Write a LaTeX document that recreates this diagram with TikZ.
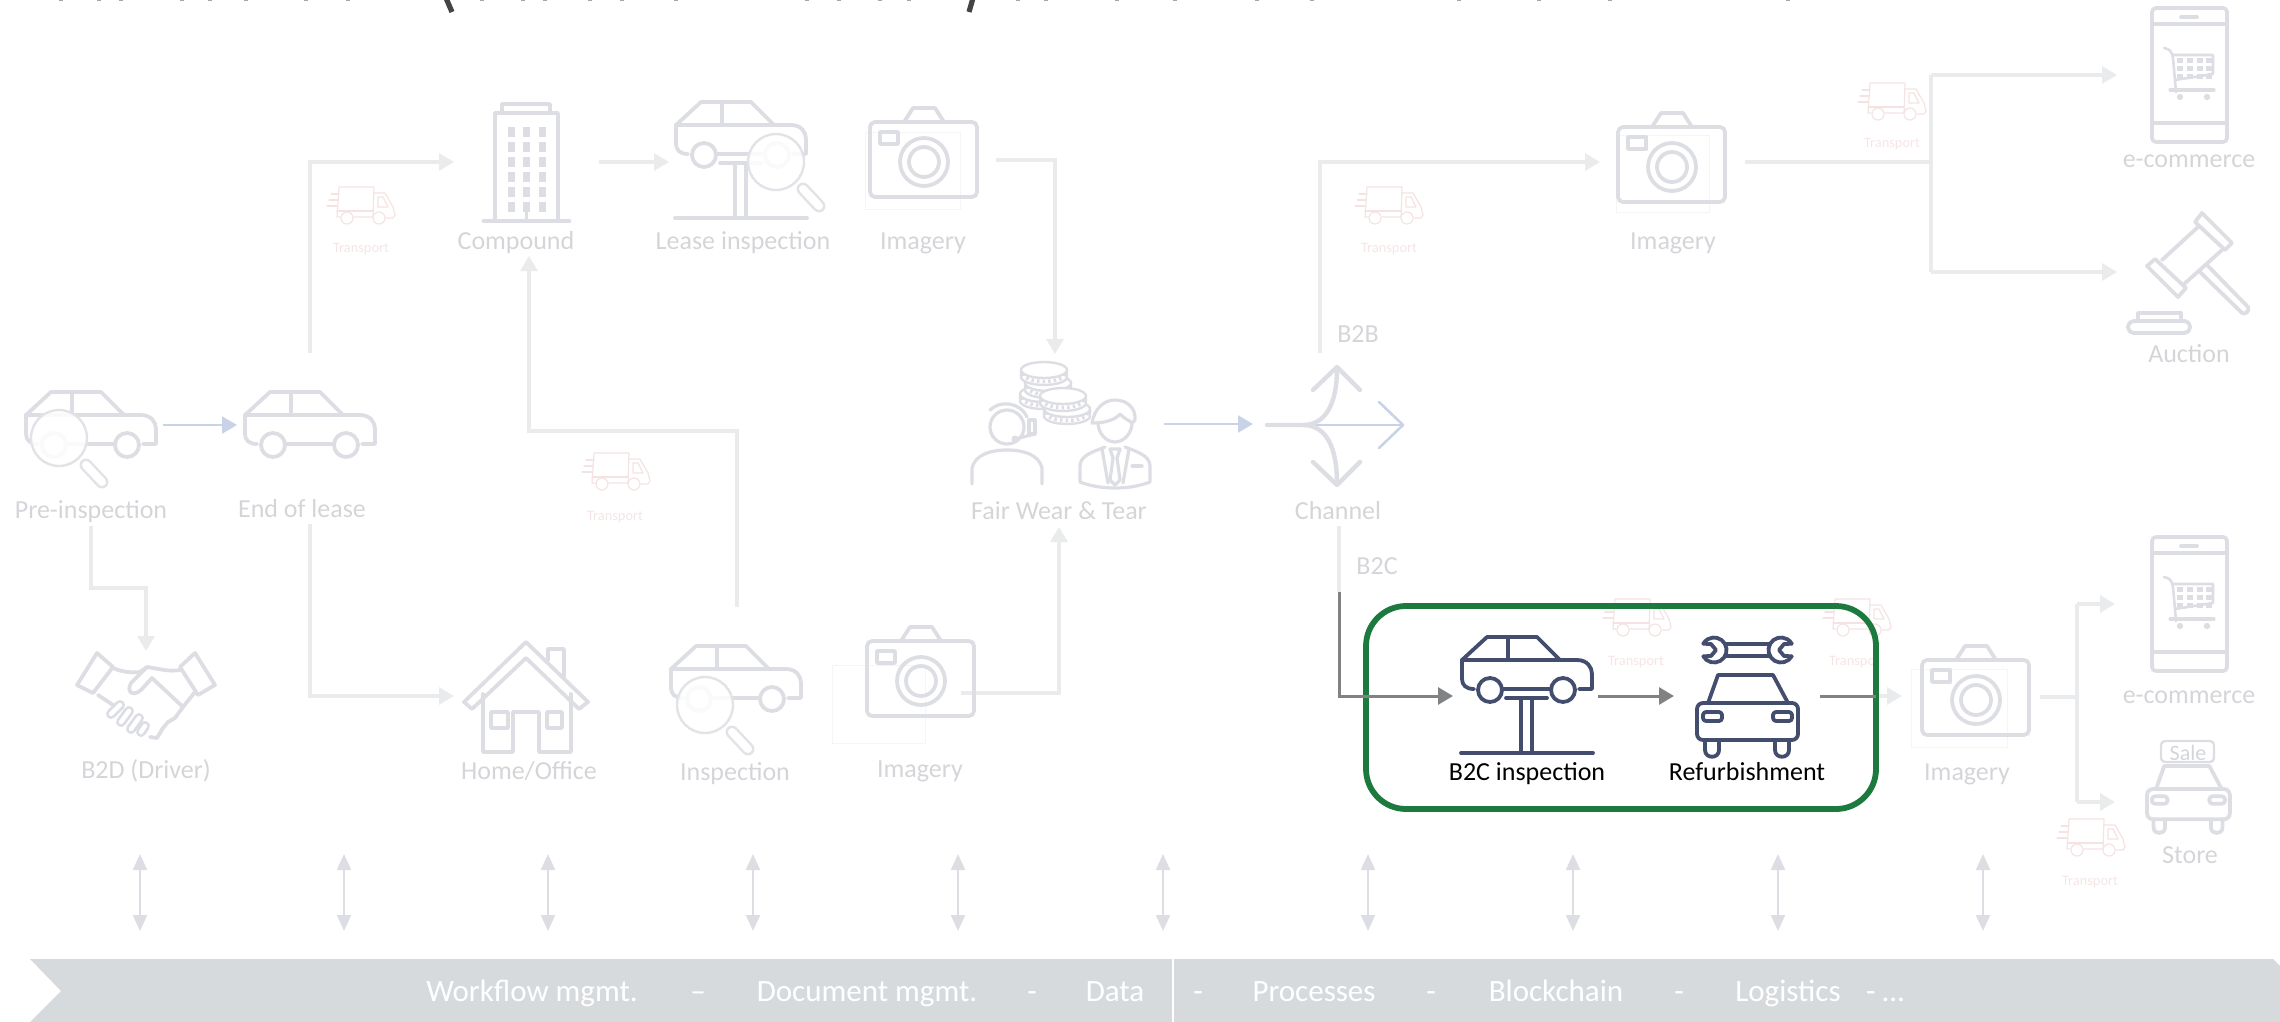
\documentclass[tikz,border=0pt]{standalone}
\usepackage{fontspec}
\setmainfont{Carlito}
\usetikzlibrary{arrows.meta,calc}
\definecolor{fadeicon}{HTML}{DDDEE3}
\definecolor{fadeline}{HTML}{EAEBEC}
\definecolor{fadetext}{HTML}{D4D5D8}
\definecolor{fadeblue}{HTML}{C9D3E7}
\definecolor{fadetruck}{HTML}{F5E2E2}
\definecolor{fadetrucktext}{HTML}{F6E5E5}
\definecolor{activeicon}{HTML}{434D6E}
\definecolor{activeline}{HTML}{808284}
\definecolor{boxgreen}{HTML}{1C7A3F}
\definecolor{bannerfill}{HTML}{D7DADD}
\definecolor{titledark}{HTML}{444444}
\tikzset{
  iconline/.style={line width=1.9pt,line join=round,line cap=round,fill=none},
  lbl/.style={font=\fontsize{13}{15}\selectfont,text=fadetext,inner sep=0pt,text height=9pt,text depth=3pt},
  lblactive/.style={font=\fontsize{13}{15}\selectfont,text=black,inner sep=0pt,text height=9pt,text depth=3pt},
  lbltruck/.style={font=\fontsize{7.2}{9}\selectfont,text=fadetrucktext,inner sep=0pt},
  lblbanner/.style={font=\fontsize{15.5}{17}\selectfont,text=white,inner sep=0pt,text height=9pt,text depth=3pt},
  conn/.style={line width=1.6pt,draw=fadeline,-{Triangle[length=7.5pt,width=8.5pt,fill=fadeline]}},
  connplain/.style={line width=1.6pt,draw=fadeline},
  connblue/.style={line width=1.3pt,draw=fadeblue,-{Triangle[length=7.5pt,width=8.5pt,fill=fadeblue]}},
  connactive/.style={line width=1.5pt,draw=activeline,-{Triangle[length=7.5pt,width=8.5pt,fill=activeline]}},
  connbus/.style={line width=1.1pt,draw=fadeicon,{Triangle[length=8pt,width=7pt,fill=fadeicon]}-{Triangle[length=8pt,width=7pt,fill=fadeicon]}},
  faintbox/.style={draw=black!4,line width=.3pt},
}
\newcommand{\carside}[3]{\begin{scope}[shift={(#1,#2)},iconline,draw=#3]
  \draw (12,52) .. controls (4,52) and (0,48) .. (0,42) -- (0,23) -- (25,0) -- (75,0) -- (98,23) -- (115,23) .. controls (125,23) and (130,30) .. (130,37) -- (130,52) -- (117,52);
  \draw (0,23) -- (98,23);
  \draw (46,0) -- (46,23);
  \draw (28,53) circle[radius=12];
  \draw (101,53) circle[radius=12];
  \draw (42,52) -- (87,52);
\end{scope}}
\newcommand{\carlift}[3]{\begin{scope}[shift={(#1,#2)},iconline,draw=#3]
  \draw (44,61) -- (85,61);
  \draw (59,61) -- (59,116);
  \draw (70,61) -- (70,116);
  \draw (-1,116) -- (131,116);
\end{scope}}
\newcommand{\lensicon}[2]{
  \fill[white,opacity=.85] (#1,#2) circle[radius=28];
  \draw[line width=1.2pt,draw=fadeicon!85] (#1,#2) circle[radius=28];
  \draw[line width=6.5pt,line cap=round,draw=fadeicon!85] ($(#1,#2)+(27,27)$) -- ($(#1,#2)+(43,44)$);
  \draw[line width=4pt,line cap=round,draw=white] ($(#1,#2)+(27,27)$) -- ($(#1,#2)+(43,44)$);
}
\newcommand{\cameraicon}[2]{\begin{scope}[shift={(#1,#2)},iconline,draw=fadeicon]
  \draw[rounded corners=2.5pt] (0,0) rectangle (107,75);
  \draw (34,0) -- (43,-14) -- (65,-14) -- (74,0);
  \draw (10,10) rectangle (28,22);
  \draw (54,40) circle[radius=24];
  \draw (54,40) circle[radius=15];
\end{scope}}
\newcommand{\truckicon}[2]{\begin{scope}[shift={(#1,#2)},line width=.6pt,line join=round,line cap=round,draw=fadetruck]
  \draw (13,30) -- (10,30) -- (12,0) -- (47,0) -- (46,30) -- (27,30);
  \draw (10,24) -- (46,24);
  \draw (47,6) -- (58,6) -- (66,20) -- (68,28) -- (66,31) -- (59,31);
  \draw (51,10) -- (56,10) -- (61,20) -- (51,20) -- cycle;
  \draw (20,31) circle[radius=6];
  \draw (52,31) circle[radius=6];
  \draw (0,19) -- (10,19);
  \draw (2,13) -- (11,13);
  \draw (4,7) -- (12,7);
\end{scope}}
\newcommand{\phoneicon}[2]{\begin{scope}[shift={(#1,#2)},iconline,draw=fadeicon]
  \draw[rounded corners=2pt] (0,0) rectangle (75,134);
  \draw (0,16) -- (75,16);
  \draw (0,115) -- (75,115);
  \draw (29,9) -- (45,9);
  \draw[line width=1.3pt] (12,40) .. controls (18,41) and (20,44) .. (21,50) -- (24,84);
  \draw[line width=1.3pt] (21,47) -- (61,47) -- (61,66) -- (23,72);
  \draw[line width=1.6pt] (18,82) -- (62,82);
  \fill[fadeicon] (28,89) circle[radius=3.2];
  \fill[fadeicon] (55,89) circle[radius=3.2];
  \foreach \u in {25,35,45,54}{\foreach \v in {50,58,66}{\fill[fadeicon] (\u,\v) rectangle ++(6,5);}}
\end{scope}}
\newcommand{\carfront}[4]{\begin{scope}[shift={(#1,#2)},scale=#3,iconline,draw=#4]
  \draw (11,28) -- (21,0) -- (76,0) -- (91,28);
  \draw[rounded corners=3pt] (0,28) rectangle (101,65);
  \draw[rounded corners=1.5pt] (6,37) rectangle (25,46);
  \draw[rounded corners=1.5pt] (76,37) rectangle (95,46);
  \draw (8,65) -- (8,75) .. controls (8,84) and (22,84) .. (22,75) -- (22,65);
  \draw (78,65) -- (78,75) .. controls (78,84) and (92,84) .. (92,75) -- (92,65);
\end{scope}}
\newcommand{\coinicon}[2]{
  \fill[white] (#1,#2+7) ellipse[x radius=23,y radius=8];
  \fill[white] (#1-23,#2) rectangle (#1+23,#2+7);
  \draw[line width=1.2pt,draw=fadeicon] (#1-23,#2) -- (#1-23,#2+7) arc[start angle=180,end angle=0,x radius=23,y radius=8] -- (#1+23,#2);
  \draw[line width=1.8pt,dash pattern=on 1.2pt off 1.6pt,draw=fadeicon] (#1-21,#2+3.5) arc[start angle=180,end angle=0,x radius=21,y radius=8];
  \draw[line width=1.2pt,draw=fadeicon,fill=white] (#1,#2) ellipse[x radius=23,y radius=8];
}
\begin{document}
\begin{tikzpicture}[x=0.5pt,y=-0.5pt]
\useasboundingbox (0,0) rectangle (2280,1022);
\clip (0,0) rectangle (2280,1022);
% clipped title remains
\draw[line width=2.6pt,draw=titledark] (446,-2) -- (452,12);
\draw[line width=2.6pt,draw=titledark] (973,-2) -- (969,12);
\foreach \tx in {61,99,121,182,210,246,306,348,482,523,545,590,622,676,807,839,880,909,1018,1046,1117,1175,1257,1312,1459,1539,1610,1788}{
  \fill[black!35] (\tx-2,0) rectangle (\tx+2,1.2);
}
% ---------- connector anchors
\coordinate (preOut) at (163,425);
\coordinate (eolIn) at (237,425);
\coordinate (preDown) at (91,526);
\coordinate (preMid) at (91,588);
\coordinate (preMidB) at (146,588);
\coordinate (b2dIn) at (146,651);
\coordinate (eolUp) at (310,353);
\coordinate (compIn) at (454,162);
\coordinate (eolDown) at (310,524);
\coordinate (homeIn) at (454,696);
\coordinate (compOut) at (599,162);
\coordinate (leaseIn) at (669,162);
\coordinate (imgAOut) at (996,160);
\coordinate (fairTop) at (1055,354);
\coordinate (inspUp) at (737,607);
\coordinate (inspMid) at (737,431);
\coordinate (compMid) at (529,431);
\coordinate (compBot) at (529,256);
\coordinate (imgBOut) at (961,693);
\coordinate (fairBot) at (1059,527);
\coordinate (fairOut) at (1164,424);
\coordinate (chanIn) at (1253,424);
\coordinate (b2bUp) at (1320,353);
\coordinate (imgCIn) at (1600,162);
\coordinate (imgCOut) at (1745,162);
\coordinate (forkA) at (1931,162);
\coordinate (forkATop) at (1931,75);
\coordinate (forkABot) at (1931,272);
\coordinate (ecomAIn) at (2117,75);
\coordinate (auctIn) at (2117,272);
\coordinate (b2cTop) at (1339,526);
\coordinate (b2cMid) at (1339,592);
\coordinate (b2cInIn) at (1453,696);
\coordinate (b2cOut) at (1598,696);
\coordinate (refIn) at (1674,696);
\coordinate (refOut) at (1820,696);
\coordinate (boxEdge) at (1876,696);
\coordinate (imgDIn) at (1902,696);
\coordinate (imgDOut) at (2040,697);
\coordinate (forkB) at (2077,697);
\coordinate (forkBTop) at (2077,604);
\coordinate (forkBBot) at (2077,802);
\coordinate (ecomBIn) at (2115,604);
\coordinate (storeIn) at (2115,802);
% ---------- connectors (faded)
\draw[connblue] (preOut) -- (eolIn);
\draw[conn] (preDown) -- (preMid) -- (preMidB) -- (b2dIn);
\draw[conn] (eolUp) |- (compIn);
\draw[conn] (eolDown) |- (homeIn);
\draw[conn] (compOut) -- (leaseIn);
\draw[conn] (imgAOut) -| (fairTop);
\draw[conn] (inspUp) -- (inspMid) -- (compMid) -- (compBot);
\draw[conn] (imgBOut) -| (fairBot);
\draw[connblue] (fairOut) -- (chanIn);
\draw[conn] (b2bUp) |- (imgCIn);
\draw[connplain] (imgCOut) -- (forkA);
\draw[connplain] (forkATop) -- (forkABot);
\draw[conn] (forkATop) -- (ecomAIn);
\draw[conn] (forkABot) -- (auctIn);
\draw[connplain] (b2cTop) -- (b2cMid);
\draw[conn] (boxEdge) -- (imgDIn);
\draw[connplain] (imgDOut) -- (forkB);
\draw[connplain] (forkBTop) -- (forkBBot);
\draw[conn] (forkBTop) -- (ecomBIn);
\draw[conn] (forkBBot) -- (storeIn);
% ---------- icons: top row
\begin{scope}[iconline,draw=fadeicon]
  \draw (495,221) -- (495,113) -- (558,113) -- (558,221);
  \draw (502,113) -- (502,104) -- (550,104) -- (550,113);
  \draw[line width=2.4pt] (484,221) -- (569,221);
  \draw (526.5,205) -- (526.5,221);
  \foreach \wx in {508,523,539}{\foreach \wy in {127,142,157,172,187,202}{\fill[fadeicon] (\wx,\wy) rectangle ++(7,10);}}
\end{scope}
\carside{676}{102}{fadeicon}
\carlift{676}{102}{fadeicon}
\lensicon{776}{162}
\draw[faintbox] (865,132) rectangle (960,209);
\cameraicon{870}{122}
\truckicon{327}{187}
\truckicon{1355}{187}
\truckicon{1858}{83}
\truckicon{582}{453}
\draw[faintbox] (1616,135) rectangle (1709,212);
\cameraicon{1618}{127}
\phoneicon{2152}{8}
% gavel
\begin{scope}[iconline,draw=fadeicon]
  \draw (2202,213) -- (2232,243) -- (2225,250) -- (2195,222) -- cycle;
  \draw (2155,259) -- (2186,288) -- (2178,297) -- (2147,266) -- cycle;
  \draw (2198,227) -- (2162,260);
  \draw (2222,250) -- (2183,285);
  \draw (2207,265) -- (2248,307) .. controls (2250,311) and (2245,315) .. (2242,313) -- (2200,272);
  \draw (2138,321) -- (2138,313) -- (2181,313) -- (2181,321);
  \draw[rounded corners=2.8pt] (2128,321) rectangle (2190,333);
\end{scope}
% ---------- left cars
\carside{26}{392}{fadeicon}
\lensicon{59}{438}
\carside{245}{392}{fadeicon}
% ---------- handshake
\begin{scope}[iconline,draw=fadeicon]
  \draw (97,653) -- (113,667) -- (93,693) -- (77,685) -- cycle;
  \draw (195,653) -- (215,685) -- (198,695) -- (180,667) -- cycle;
  \draw (113,668) .. controls (122,672) and (132,673) .. (140,672) -- (147,667) .. controls (160,669) and (170,672) .. (180,670);
  \draw (147,667) -- (131,683) .. controls (126,692) and (133,697) .. (141,690) -- (152,678) -- (183,707);
  \draw (195,692) -- (183,707) -- (175,718) -- (168,722) -- (163,728) -- (157,738) -- (150,737);
  \draw (98,695) -- (113,705);
  \foreach \ax/\ay/\bx/\by in {120/705/111/714,129/711/121/722,139/718/131/729,145/726/141/732}{
    \draw[line width=5pt,draw=fadeicon] (\ax,\ay) -- (\bx,\by);
    \draw[line width=2.2pt,draw=white] (\ax,\ay) -- (\bx,\by);
  }
\end{scope}
% ---------- house
\begin{scope}[iconline,draw=fadeicon]
  \draw (526,642) -- (464,702) -- (472,709) -- (526,658) -- (579,709) -- (588,702) -- cycle;
  \draw (548,660) -- (548,649) -- (564,649) -- (564,677);
  \draw (483,694) -- (483,752) -- (513,752) -- (513,712) -- (539,712) -- (539,752) -- (571,752) -- (571,694);
  \draw (491,712) rectangle (508,728);
  \draw (547,712) rectangle (562,728);
\end{scope}
\carside{671}{646}{fadeicon}
\lensicon{705}{705}
\draw[faintbox] (832,665) rectangle (925,743);
\cameraicon{867}{641}
% ---------- Fair Wear & Tear
\coinicon{1043}{394}
\coinicon{1048}{383}
\coinicon{1044}{370}
\coinicon{1067}{409}
\coinicon{1063}{396}
\begin{scope}[iconline,draw=fadeicon,line width=1.6pt]
  \draw (1007,427) circle[radius=17];
  \draw (990,410) .. controls (1000,400) and (1020,402) .. (1027,417);
  \draw (1029,420) rectangle (1035,434);
  \draw (1035,434) -- (1015,439);
  \fill[fadeicon] (1015,439) circle[radius=3.5];
  \draw (972,484) -- (972,468) .. controls (975,455) and (990,450) .. (1007,450) .. controls (1024,450) and (1039,455) .. (1042,468) -- (1042,484);
  \draw (1098,423) .. controls (1098,432) and (1105,442) .. (1115,442) .. controls (1125,442) and (1132,432) .. (1132,423);
  \draw (1092,423) .. controls (1094,410) and (1103,400) .. (1115,400) .. controls (1127,400) and (1136,408) .. (1135,420) -- (1132,423) .. controls (1129,420) and (1123,418) .. (1120,414) .. controls (1115,420) and (1105,423) .. (1092,423);
  \draw (1105,447) .. controls (1092,452) and (1080,456) .. (1080,466) -- (1080,482) .. controls (1100,490) and (1130,490) .. (1150,482) -- (1150,466) .. controls (1150,456) and (1138,452) .. (1125,447);
  \draw (1110,449) -- (1120,449) -- (1117,458) -- (1120,480) -- (1115,485) -- (1110,480) -- (1113,458) -- cycle;
  \draw (1102,449) -- (1108,483);
  \draw (1129,449) -- (1123,483);
  \draw (1132,466) -- (1142,466);
\end{scope}
% ---------- channel fork
\draw[line width=1.3pt,draw=fadeblue] (1303,425) -- (1402,425);
\draw[line width=1.3pt,draw=fadeblue,line join=round,line cap=round] (1379,402) -- (1403,425) -- (1379,448);
\begin{scope}[iconline,draw=fadeicon,line width=2.2pt]
  \draw (1267,425) -- (1303,425) .. controls (1325,425) and (1337,405) .. (1337,368);
  \draw (1303,425) .. controls (1325,425) and (1337,445) .. (1337,484);
  \draw (1313,390) -- (1337,367) -- (1360,390);
  \draw (1313,462) -- (1337,485) -- (1360,462);
\end{scope}
% ---------- lower right faded
\draw[faintbox] (1911,669) rectangle (2007,747);
\cameraicon{1922}{660}
\phoneicon{2152}{537}
\carfront{2147}{766}{0.82}{fadeicon}
\draw[iconline,draw=fadeicon,line width=1.2pt,rounded corners=2pt] (2161,741) rectangle (2214,762);
\truckicon{2057}{819}
\truckicon{1603}{599}
\truckicon{1823}{599}
% ---------- labels
\node[lbl] (lPre) at (91,512) {Pre-inspection};
\node[lbl] (lEol) at (302,511) {End of lease};
\node[lbl] (lB2d) at (146,772) {B2D (Driver)};
\node[lbl] (lHome) at (529,773) {Home/Office};
\node[lbl] (lInsp) at (735,774) {Inspection};
\node[lbl] (lImgB) at (920,771) {Imagery};
\node[lbl] (lComp) at (516,243) {Compound};
\node[lbl] (lLease) at (743,243) {Lease inspection};
\node[lbl] (lImgA) at (923,243) {Imagery};
\node[lbl] (lFair) at (1059,513) {Fair Wear \& Tear};
\node[lbl] (lChan) at (1338,513) {Channel};
\node[lbl] (lB2b) at (1358,336) {B2B};
\node[lbl] (lB2c) at (1377,568) {B2C};
\node[lbl] (lImgC) at (1673,243) {Imagery};
\node[lbl] (lEcomA) at (2189,161) {e-commerce};
\node[lbl] (lAuct) at (2189,356) {Auction};
\node[lbl] (lImgD) at (1967,774) {Imagery};
\node[lbl] (lEcomB) at (2189,697) {e-commerce};
\node[lbl] (lStore) at (2190,857) {Store};
\node[lbl,font=\fontsize{11}{13}\selectfont] (lSale) at (2188,754) {Sale};
\node[lbltruck] (tA) at (361,249) {Transport};
\node[lbltruck] (tB) at (1389,249) {Transport};
\node[lbltruck] (tC) at (1892,144) {Transport};
\node[lbltruck] (tD) at (615,517) {Transport};
\node[lbltruck] (tE) at (1636,662) {Transport};
\begin{scope}
  \clip (1700,600) rectangle (1873,700);
  \node[lbltruck] (tF) at (1857,662) {Transport};
\end{scope}
\node[lbltruck] (tG) at (2090,882) {Transport};
% ---------- highlighted part
\draw[line width=2.9pt,draw=boxgreen,rounded corners=20pt] (1366,606) rectangle (1876,809);
\draw[connactive] (b2cMid) |- (b2cInIn);
\draw[connactive] (b2cOut) -- (refIn);
\draw[line width=1.5pt,draw=activeline] (refOut) -- (boxEdge);
\carside{1462}{637}{activeicon}
\carlift{1462}{637}{activeicon}
\carfront{1697}{675}{1}{activeicon}
\begin{scope}[iconline,draw=activeicon]
  \draw (1725,644) -- (1770,644);
  \draw (1725,656) -- (1770,656);
  \draw (1703.2,656.25) arc[start angle=150,end angle=-150,radius=12.5];
  \draw (1703.2,656.25) -- (1711,656) -- (1716,650) -- (1711,644) -- (1703.2,643.75);
  \draw (1791.8,656.25) arc[start angle=30,end angle=330,radius=12.5];
  \draw (1791.8,656.25) -- (1784,656) -- (1779,650) -- (1784,644) -- (1791.8,643.75);
\end{scope}
\node[lblactive] (lB2ci) at (1527,774) {B2C inspection};
\node[lblactive] (lRef) at (1747,774) {Refurbishment};
% ---------- shared layer arrows
\foreach \bx [count=\bi] in {140,344,548,753,958,1163,1368,1573,1778,1983}{
  \coordinate (busT\bi) at (\bx,854);
  \coordinate (busB\bi) at (\bx,931);
  \draw[connbus] (busT\bi) -- (busB\bi);
}
% ---------- banner
\fill[bannerfill] (30,959) -- (2273,959) -- (2280,966) -- (2280,1022) -- (30,1022) -- (61,991) -- cycle;
\draw[line width=.6pt,draw=white] (1173,959) -- (1173,1022);
\node[lblbanner] (bA) at (532,995) {Workflow mgmt.};
\node[lblbanner] (bB) at (698,995) {–};
\node[lblbanner] (bC) at (867,995) {Document mgmt.};
\node[lblbanner] (bD) at (1032,995) {-};
\node[lblbanner] (bE) at (1115,995) {Data};
\node[lblbanner] (bF) at (1198,995) {-};
\node[lblbanner] (bG) at (1314,995) {Processes};
\node[lblbanner] (bH) at (1431,995) {-};
\node[lblbanner] (bI) at (1556,995) {Blockchain};
\node[lblbanner] (bJ) at (1679,995) {-};
\node[lblbanner] (bK) at (1788,995) {Logistics};
\node[lblbanner] (bL) at (1885,995) {- …};
\end{tikzpicture}
\end{document}
